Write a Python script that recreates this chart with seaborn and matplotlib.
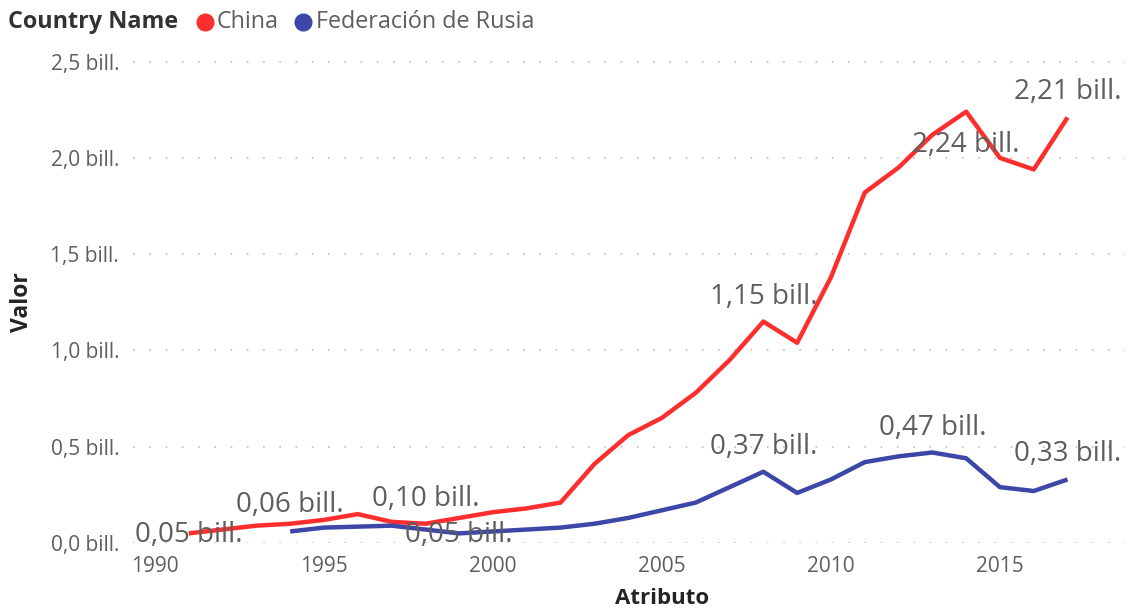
import matplotlib
matplotlib.use("Agg")
import matplotlib.pyplot as plt
from matplotlib.lines import Line2D
import seaborn as sns
import pandas as pd

# Series values, in billions
china_years = list(range(1991, 2018))
china_values = [0.05, 0.07, 0.09, 0.10, 0.12, 0.15, 0.11, 0.10, 0.13, 0.16,
                0.18, 0.21, 0.41, 0.56, 0.65, 0.78, 0.95, 1.15, 1.04, 1.38,
                1.82, 1.95, 2.12, 2.24, 2.00, 1.94, 2.21]
russia_years = list(range(1994, 2018))
russia_values = [0.06, 0.08, 0.085, 0.09, 0.07, 0.05, 0.06, 0.07, 0.08, 0.10,
                 0.13, 0.17, 0.21, 0.29, 0.37, 0.26, 0.33, 0.42, 0.45, 0.47,
                 0.44, 0.29, 0.27, 0.33]
series_names = ["China", "Federación de Rusia"]

# Points carrying a data label: (year, vertical offset in points)
china_labels = [(1991, -1), (1998, 18), (2008, 18), (2014, -24), (2017, 18)]
russia_labels = [(1994, 19), (1999, -1), (2008, 18), (2013, 18), (2017, 18)]

y_ticks = [0.0, 0.5, 1.0, 1.5, 2.0, 2.5]
x_ticks = [1990, 1995, 2000, 2005, 2010, 2015]

RED = "#FD2E2E"
BLUE = "#3D47A8"
GREY = "#605E5C"
DARK = "#252423"

df = pd.concat([
    pd.DataFrame({"Atributo": china_years, "Valor": china_values,
                  "Country Name": series_names[0]}),
    pd.DataFrame({"Atributo": russia_years, "Valor": russia_values,
                  "Country Name": series_names[1]}),
], ignore_index=True)

sns.set_theme(style="white")
plt.rcParams["font.family"] = ["Open Sans", "DejaVu Sans"]

W, H = 1130, 612
fig = plt.figure(figsize=(W / 100, H / 100), dpi=100)
ax = fig.add_axes([133 / W, (H - 543) / H, (1125 - 133) / W, (543 - 52) / H])

sns.lineplot(data=df, x="Atributo", y="Valor", hue="Country Name",
             palette={series_names[0]: RED, series_names[1]: BLUE},
             linewidth=3.2, legend=False, ax=ax, solid_capstyle="butt")

ax.set_xlim(1989.35, 2018.7)
ax.set_ylim(0, 2.55)
ax.set_xticks(x_ticks)
ax.set_yticks(y_ticks)
ax.set_xticklabels([str(t) for t in x_ticks])
ax.set_yticklabels([f"{t:.1f}".replace(".", ",") + " bill." for t in y_ticks])
ax.tick_params(axis="both", length=0, labelsize=15, labelcolor=GREY)
ax.tick_params(axis="x", pad=9.5)
ax.tick_params(axis="y", pad=10)
for s in ax.spines.values():
    s.set_visible(False)
ax.grid(False)
for t in y_ticks:
    ax.axhline(t, color="#C8C6C4", lw=1.3, ls=(0, (1, 8)), zorder=0)

# Axis titles
ax.set_xlabel("Atributo", fontsize=16, fontweight="bold", color=DARK)
ax.xaxis.label.set_va("center")
ax.xaxis.set_label_coords((662 - 133) / (1125 - 133), -(598 - 543) / (543 - 52))
ax.set_ylabel("Valor", fontsize=16.5, fontweight="bold", color=DARK)
ax.yaxis.label.set_va("center")
ax.yaxis.set_label_coords(-(133 - 22) / (1125 - 133), (543 - 302) / (543 - 52))


def fmt(v):
    return f"{v:.2f}".replace(".", ",") + " bill."


for years, values, labels in ((china_years, china_values, china_labels),
                              (russia_years, russia_values, russia_labels)):
    for yr, dy in labels:
        v = values[years.index(yr)]
        ax.annotate(fmt(v), (yr, v), xytext=(0, dy), textcoords="offset points",
                    ha="center", va="center", fontsize=20, color=GREY, zorder=5)

# Legend row
ly = 1 - 22 / H
fig.text(8 / W, ly, "Country Name", fontsize=16.8, fontweight="bold",
         color="#333333", va="center", ha="left")
for cx, tx, name, col in ((205, 217, series_names[0], RED),
                          (303, 316, series_names[1], BLUE)):
    fig.add_artist(Line2D([cx / W], [ly], marker="o", markersize=12,
                          color=col, transform=fig.transFigure))
    fig.text(tx / W, ly, name, fontsize=16.8, color=GREY, va="center", ha="left")

fig.savefig("out.png", dpi=100)
